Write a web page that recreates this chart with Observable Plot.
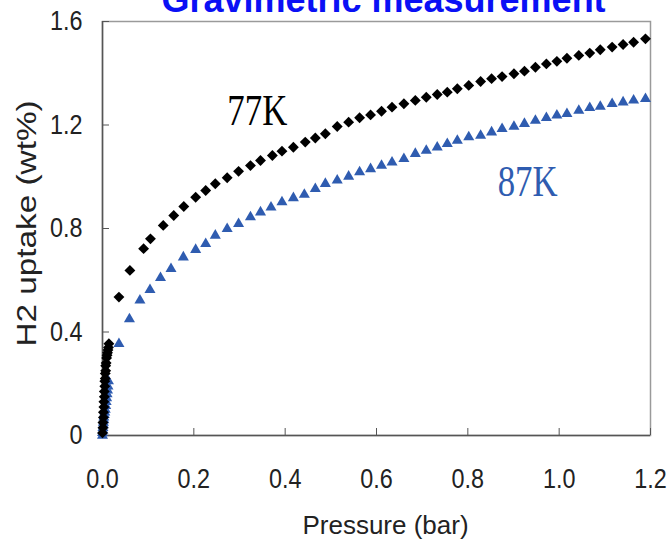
<!DOCTYPE html>
<html>
<head>
<meta charset="utf-8">
<script src="https://cdn.jsdelivr.net/npm/d3@7"></script>
<script src="https://cdn.jsdelivr.net/npm/@observablehq/plot@0.6"></script>
<style>
  html, body { margin: 0; padding: 0; background: #fff; }
  #wrap { position: relative; width: 667px; height: 544px; overflow: hidden; }
  #title { position: absolute; top: -18px; left: 50px; width: 667px; text-align: center;
    font: bold 36px "Liberation Sans", Arial, sans-serif; line-height: 36px; color: #0a10f5; z-index: 2; white-space: nowrap; }
</style>
</head>
<body>
<div id="wrap">
  <div id="title">Gravimetric measurement</div>
  <div id="chart"></div>
</div>
<script>
// ---- data ----
const titleText = "Gravimetric measurement";
const xLabel = "Pressure (bar)";
const yLabel = "H2 uptake (wt%)";

const xTicks = [0, 0.2, 0.4, 0.6, 0.8, 1.0, 1.2];
const xTickLabels = ["0.0", "0.2", "0.4", "0.6", "0.8", "1.0", "1.2"];
const yTicks = [0, 0.4, 0.8, 1.2, 1.6];
const yTickLabels = ["0", "0.4", "0.8", "1.2", "1.6"];

// 77K series (black diamonds)
const p77 = [0.000, 0.001, 0.001, 0.002, 0.002, 0.003, 0.003, 0.004, 0.004, 0.005, 0.005, 0.006, 0.006,
  0.007, 0.007, 0.008, 0.009, 0.010, 0.011, 0.012, 0.013, 0.014,
  0.036, 0.060, 0.090, 0.105, 0.133, 0.156, 0.178, 0.204, 0.226, 0.247, 0.273, 0.298, 0.324, 0.346, 0.372,
  0.393, 0.418, 0.444, 0.466, 0.488, 0.514, 0.539, 0.563, 0.587, 0.611, 0.634, 0.660, 0.685, 0.709, 0.733,
  0.755, 0.777, 0.802, 0.828, 0.852, 0.875, 0.901, 0.924, 0.948, 0.972, 0.995, 1.017, 1.043, 1.067, 1.090,
  1.116, 1.140, 1.163, 1.189];
const u77 = [0.01, 0.03, 0.05, 0.07, 0.09, 0.11, 0.13, 0.15, 0.17, 0.19, 0.21, 0.22, 0.24,
  0.25, 0.27, 0.28, 0.30, 0.31, 0.32, 0.33, 0.34, 0.355,
  0.535, 0.638, 0.722, 0.760, 0.812, 0.850, 0.885, 0.921, 0.947, 0.973, 0.996, 1.021, 1.043, 1.063, 1.082,
  1.099, 1.114, 1.134, 1.150, 1.166, 1.194, 1.211, 1.228, 1.239, 1.253, 1.269, 1.282, 1.295, 1.307, 1.318,
  1.327, 1.340, 1.353, 1.368, 1.379, 1.387, 1.398, 1.408, 1.423, 1.436, 1.446, 1.458, 1.469, 1.478, 1.491,
  1.501, 1.511, 1.520, 1.533];

// 87K series (blue triangles)
const p87 = [0.000, 0.000, 0.001, 0.001, 0.002, 0.002, 0.003, 0.003, 0.004, 0.005, 0.006, 0.007, 0.008,
  0.009, 0.010, 0.011, 0.012, 0.013,
  0.036, 0.059, 0.082, 0.104, 0.127, 0.150, 0.177, 0.204, 0.226, 0.247, 0.273, 0.298, 0.324, 0.346, 0.369,
  0.393, 0.418, 0.442, 0.466, 0.488, 0.514, 0.539, 0.563, 0.587, 0.611, 0.634, 0.660, 0.685, 0.709, 0.733,
  0.755, 0.777, 0.802, 0.828, 0.852, 0.875, 0.901, 0.924, 0.948, 0.972, 0.995, 1.017, 1.043, 1.067, 1.090,
  1.116, 1.140, 1.163, 1.189];
const u87 = [0.00, 0.01, 0.02, 0.03, 0.04, 0.05, 0.06, 0.07, 0.08, 0.09, 0.10, 0.115, 0.13,
  0.145, 0.16, 0.175, 0.19, 0.21,
  0.354, 0.450, 0.522, 0.563, 0.609, 0.644, 0.689, 0.718, 0.741, 0.773, 0.799, 0.818, 0.844, 0.863, 0.882,
  0.902, 0.918, 0.931, 0.953, 0.973, 0.986, 1.001, 1.018, 1.030, 1.043, 1.056, 1.069, 1.089, 1.101, 1.114,
  1.127, 1.140, 1.153, 1.159, 1.172, 1.185, 1.194, 1.205, 1.217, 1.228, 1.237, 1.243, 1.256, 1.266, 1.271,
  1.282, 1.288, 1.295, 1.301];

// series annotations
const seriesNames = ["77K", "87K"];
const seriesColors = ["#000000", "#2f5cb0"];
const annotX = [0.339, 0.931];
const annotY = [1.256, 0.982];

// ---- build ----
document.getElementById("title").textContent = titleText;
const d77 = p77.map((p, i) => ({p, u: u77[i]}));
const d87 = p87.map((p, i) => ({p, u: u87[i]}));
const annots = seriesNames.map((name, i) => ({name, x: annotX[i], y: annotY[i], color: seriesColors[i]}));

const chart = Plot.plot({
  width: 667,
  height: 544,
  marginLeft: 102,
  marginRight: 17,
  marginTop: 21,
  marginBottom: 109,
  style: {fontFamily: "'Liberation Sans', Arial, sans-serif", fontSize: "26px", color: "#222", background: "#fff"},
  x: {domain: [0, 1.2]},
  y: {domain: [0, 1.6]},
  marks: [
    Plot.frame({stroke: "#9a9a9a", strokeWidth: 1.5}),
    Plot.ruleY([0], {stroke: "#555", strokeWidth: 1.5}),
    Plot.ruleX([0], {stroke: "#555", strokeWidth: 1.5}),
    Plot.axisX({ticks: xTicks, tickFormat: (d, i) => xTickLabels[i], tickSize: -7, tickPadding: 40, fontSize: 26,
      stroke: "#555", label: null}),
    Plot.axisY({ticks: yTicks, tickFormat: (d, i) => yTickLabels[i], tickSize: -7, tickPadding: 27, fontSize: 26,
      stroke: "#555", label: null}),
    Plot.text([xLabel], {text: d => d, frameAnchor: "bottom", dx: 9, dy: 90, fontSize: 26, fill: "#222",
      textAnchor: "middle", lineAnchor: "middle"}),
    Plot.text([yLabel], {text: d => d, frameAnchor: "left", rotate: -90, dx: -75, dy: -5, fontSize: 28, fill: "#222",
      textAnchor: "middle", lineAnchor: "middle"}),
    Plot.dot(d87, {x: "p", y: "u", symbol: "triangle", r: 4.1, fill: seriesColors[1], stroke: "none"}),
    Plot.dot(d77, {x: "p", y: "u", symbol: "diamond2", r: 4.9, fill: seriesColors[0], stroke: "none"}),
    Plot.text(annots, {x: "x", y: "y", text: "name", fill: "color", fontFamily: "'Liberation Serif', 'Times New Roman', serif",
      fontSize: 40, textAnchor: "middle", lineAnchor: "middle"})
  ]
});
document.getElementById("chart").appendChild(chart);

// reshape glyphs to the narrow, tall lettering of the reference
function squash(selector, sx, sy, only) {
  d3.select(chart).selectAll(selector).each(function () {
    if (only && !only.includes(this.textContent)) return;
    const t = this.getAttribute("transform");
    if (t) {
      this.setAttribute("transform", `${t} scale(${sx},${sy})`);
    } else {
      const x = parseFloat(this.getAttribute("x")) || 0, y = parseFloat(this.getAttribute("y")) || 0;
      this.setAttribute("transform", `translate(${x},${y}) scale(${sx},${sy}) translate(${-x},${-y})`);
    }
  });
}
squash('g[aria-label="x-axis tick label"] text', 0.9, 1.05);
squash('g[aria-label="y-axis tick label"] text', 0.9, 1.05);
squash('g[aria-label="text"] text', 1.19, 1.0, [yLabel]);
squash('g[aria-label="text"] text', 0.87, 1.12, seriesNames);
</script>
</body>
</html>
